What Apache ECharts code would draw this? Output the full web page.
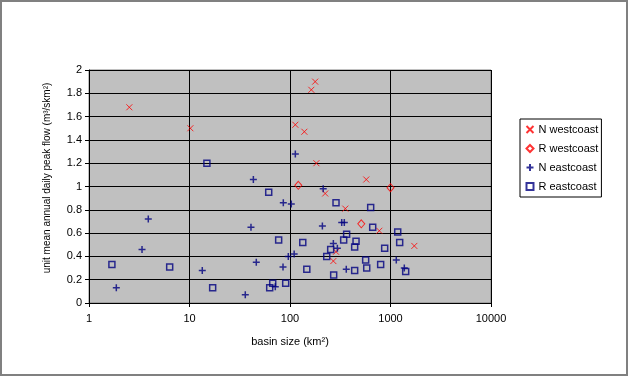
<!DOCTYPE html>
<html>
<head>
<meta charset="utf-8">
<script src="https://cdn.jsdelivr.net/npm/echarts@6/dist/echarts.min.js"></script>
<style>
html,body{margin:0;padding:0;background:#fff;}
#c{width:628px;height:376px;}
</style>
</head>
<body>
<div id="c"></div>
<script>
// N westcoast
const nwX = [2.52, 10.2, 178, 163, 113, 139, 183, 574, 224, 355, 774, 1726, 287, 270];
const nwY = [1.68, 1.50, 1.90, 1.83, 1.53, 1.47, 1.20, 1.06, 0.94, 0.81, 0.62, 0.49, 0.44, 0.36];
// R westcoast
const rwX = [121, 512, 1000];
const rwY = [1.01, 0.68, 0.99];
// N eastcoast
const neX = [1.87, 3.37, 3.89, 13.4, 35.9, 40.9, 43.2, 46.2, 71.4, 85.2, 85.8, 96.2, 103, 110, 113, 210, 214, 270, 296, 327, 347, 363, 1142, 1372];
const neY = [0.13, 0.46, 0.72, 0.28, 0.07, 0.65, 1.06, 0.35, 0.14, 0.31, 0.86, 0.40, 0.85, 0.42, 1.28, 0.66, 0.98, 0.51, 0.47, 0.69, 0.69, 0.29, 0.37, 0.30];
// R eastcoast
const reX = [1.69, 6.35, 14.9, 17.0, 61.4, 62.8, 67.3, 77.1, 90.6, 134, 147, 232, 254, 272, 287, 342, 366, 440, 440, 454, 566, 580, 635, 665, 798, 875, 1180, 1234, 1416];
const reY = [0.33, 0.31, 1.20, 0.13, 0.95, 0.13, 0.17, 0.54, 0.17, 0.52, 0.29, 0.40, 0.46, 0.24, 0.86, 0.54, 0.59, 0.48, 0.28, 0.53, 0.37, 0.30, 0.82, 0.65, 0.33, 0.47, 0.61, 0.52, 0.27];

const seriesNames = ['N westcoast', 'R westcoast', 'N eastcoast', 'R eastcoast'];
const xTitle = 'basin size (km²)';
const yTitle = 'unit mean annual daily peak flow (m³/skm²)';

function pairs(xs, ys){ return xs.map((x,i)=>[x, ys[i]]); }

const FONT = 'Liberation Sans, Arial, sans-serif';
const chart = echarts.init(document.getElementById('c'), null, {renderer:'canvas'});
chart.setOption({
  animation:false,
  backgroundColor:'#fff',
  textStyle:{fontFamily:FONT},
  grid:{left:89, top:70, right:137, bottom:73, show:true, backgroundColor:'#C0C0C0', borderColor:'#808080', borderWidth:1},
  xAxis:{
    type:'log', logBase:10, min:1, max:10000,
    name:xTitle, nameLocation:'middle', nameGap:33,
    nameTextStyle:{color:'#000', fontSize:11, fontFamily:FONT},
    axisLine:{lineStyle:{color:'#000', width:1}},
    axisTick:{show:true, inside:false, length:4, lineStyle:{color:'#000'}},
    minorTick:{show:false},
    axisLabel:{color:'#000', fontSize:11, fontFamily:FONT, margin:10, formatter:function(v){return String(Math.round(v));}},
    splitLine:{show:true, lineStyle:{color:'#000', width:1}}
  },
  yAxis:{
    type:'value', min:0, max:2, interval:0.2,
    axisLine:{show:true, lineStyle:{color:'#000', width:1}},
    axisTick:{show:true, inside:false, length:4, lineStyle:{color:'#000'}},
    axisLabel:{color:'#000', fontSize:11, fontFamily:FONT, margin:7},
    splitLine:{show:true, lineStyle:{color:'#000', width:1}}
  },
  legend:{
    orient:'vertical', left:520, top:119,
    padding:[4,3,4,4],
    itemWidth:7, itemHeight:7, itemGap:6,
    backgroundColor:'#fff', borderColor:'#000', borderWidth:1,
    textStyle:{color:'#000', fontSize:11, fontFamily:FONT, lineHeight:13},
    data:seriesNames
  },
  graphic:[
    {type:'rect', shape:{x:1,y:1,width:626,height:374}, style:{fill:'none', stroke:'#808080', lineWidth:2}, silent:true},
    {type:'text', x:47, y:178, rotation:Math.PI/2, style:{text:yTitle, fill:'#000', font:'10px '+FONT, align:'center', verticalAlign:'middle'}}
  ],
  series:[
    {name:seriesNames[0], type:'scatter', data:pairs(nwX,nwY),
     symbol:'path://M0,0L10,10M10,0L0,10', symbolSize:6,
     itemStyle:{color:'#FF0000', borderColor:'#FF0000', borderWidth:1}},
    {name:seriesNames[1], type:'scatter', data:pairs(rwX,rwY),
     symbol:'diamond', symbolSize:[7,8],
     itemStyle:{color:'none', borderColor:'#FF0000', borderWidth:1}},
    {name:seriesNames[2], type:'scatter', data:pairs(neX,neY),
     symbol:'path://M5,0L5,10M0,5L10,5', symbolSize:7,
     itemStyle:{color:'#000080', borderColor:'#000080', borderWidth:1.5}},
    {name:seriesNames[3], type:'scatter', data:pairs(reX,reY),
     symbol:'rect', symbolSize:6,
     itemStyle:{color:'none', borderColor:'#000080', borderWidth:1.5}}
  ]
});
</script>
</body>
</html>
